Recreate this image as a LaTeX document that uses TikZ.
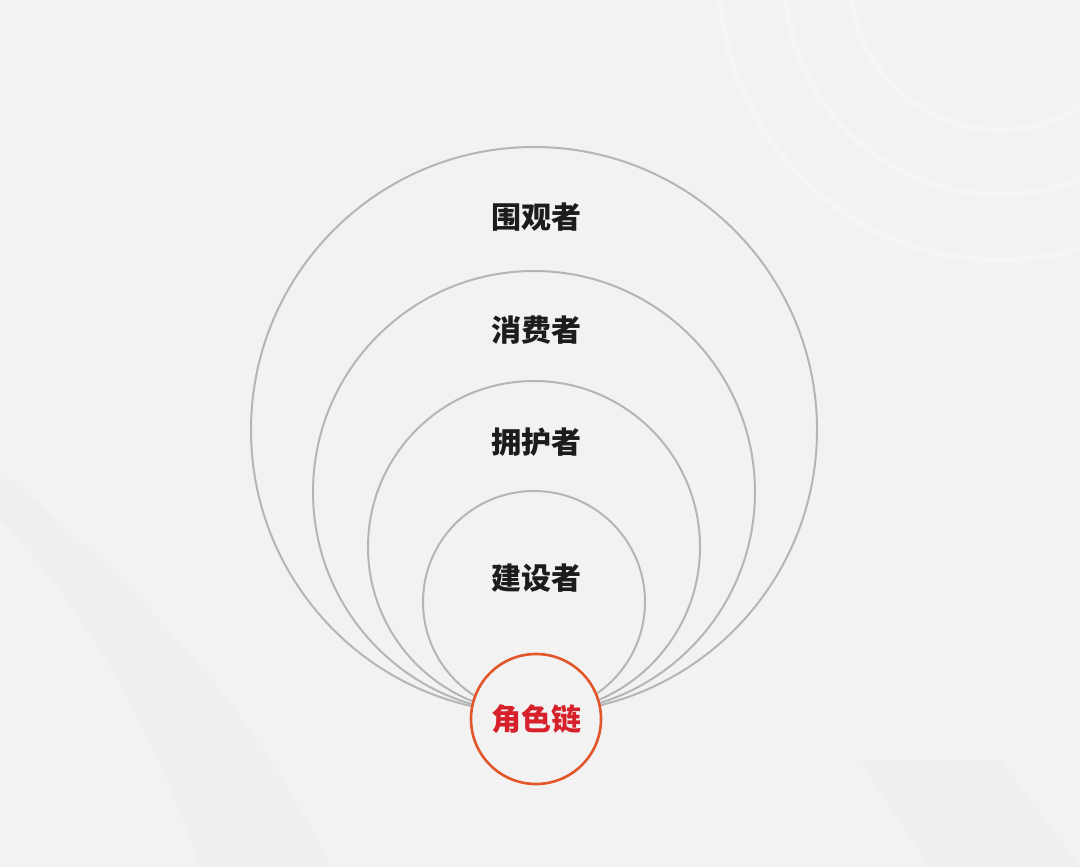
\documentclass[tikz,border=0pt]{standalone}
\usepackage{fontspec}
\newfontfamily\cjk{Noto Sans CJK SC}
\definecolor{bggray}{HTML}{F2F2F2}
\definecolor{shadegray}{HTML}{E6E6E6}
\definecolor{ringgray}{HTML}{B5B5B5}
\definecolor{rolegray}{HTML}{1C1C1C}
\definecolor{chainred}{HTML}{E2562A}
\definecolor{chaintext}{HTML}{D6212B}

\begin{document}
\begin{tikzpicture}[x=0.5pt,y=-0.5pt,
  ring/.style={draw=ringgray, line width=1pt, circle, inner sep=0pt},
  role/.style={font=\cjk\bfseries\fontsize{15}{15}\selectfont, text=rolegray}]
\useasboundingbox (0,0) rectangle (1080,867);
\fill [bggray] (0,0) rectangle (1080,867);

% faint swooshes in the background
\begin{scope}
\clip (0,0) rectangle (1080,867);
\foreach \r in {150,215,280}
  \draw [white, line width=3pt, opacity=0.3] (1000,-20) circle [radius=\r];
\fill [shadegray, opacity=0.2] (0,520) .. controls (80,600) and (150,720) .. (200,867) -- (330,867) .. controls (280,760) and (200,640) .. (0,470) -- cycle;
\fill [shadegray, opacity=0.2] (860,760) -- (1000,760) -- (1080,867) -- (930,867) -- cycle;
\end{scope}

% nested rings, all touching at the bottom
\node [ring, minimum size=283pt] (watcher) at (534,430) {};
\node [ring, minimum size=221pt] (consumer) at (534,492) {};
\node [ring, minimum size=166pt] (supporter) at (534,547) {};
\node [ring, minimum size=111pt] (builder) at (534,602) {};

\node [role] (watcherlabel) at (536,217) {围观者};
\node [role] (consumerlabel) at (536,330) {消费者};
\node [role] (supporterlabel) at (536,442) {拥护者};
\node [role] (builderlabel) at (536,578) {建设者};

% the chain itself
\node [circle, draw=chainred, fill=bggray, line width=1.3pt, minimum size=65pt, inner sep=0pt,
       font=\cjk\bfseries\fontsize{15}{15}\selectfont, text=chaintext] (chain) at (536,719) {角色链};

\end{tikzpicture}
\end{document}
